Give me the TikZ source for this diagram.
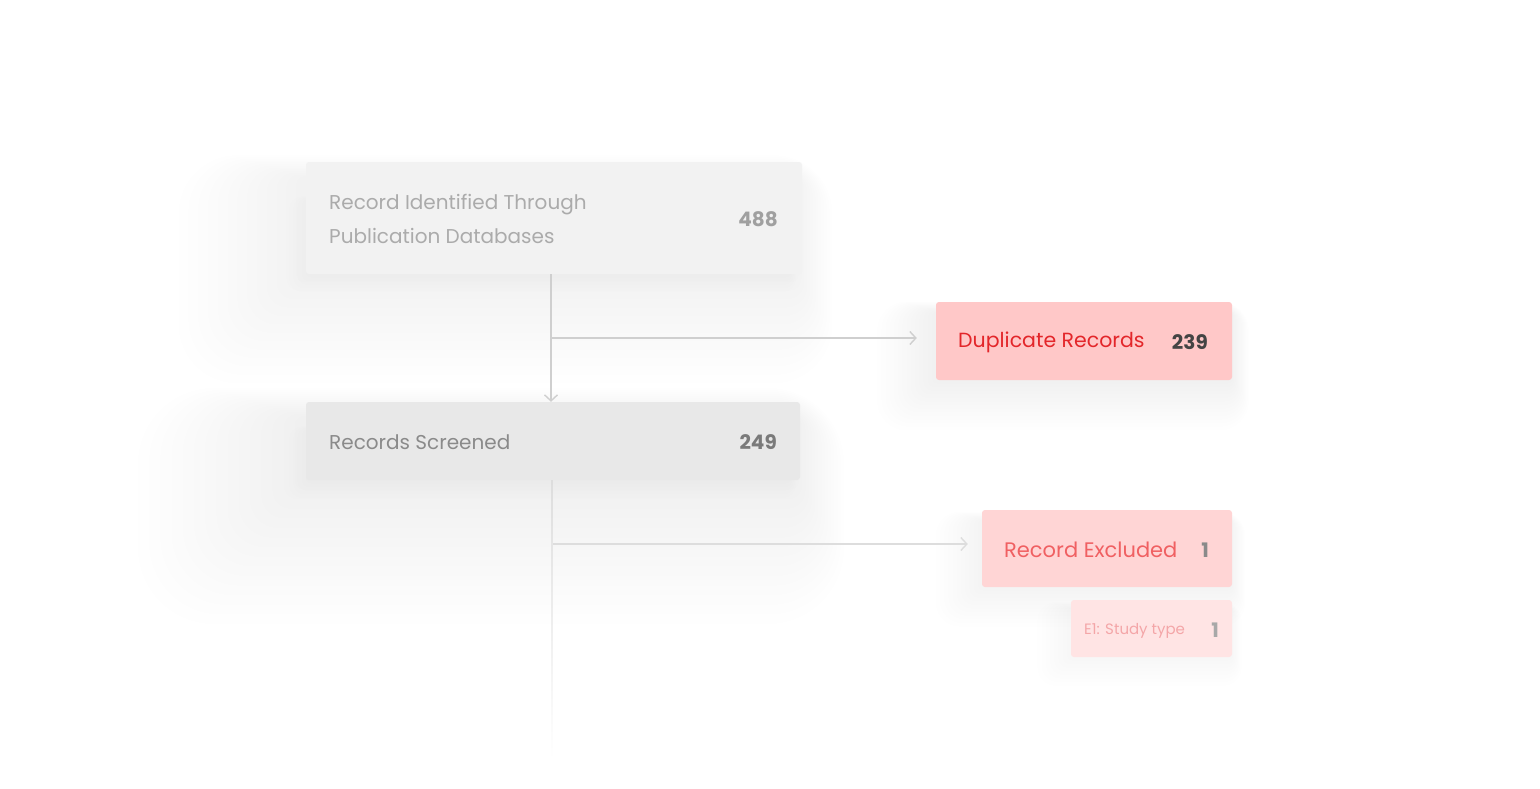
\documentclass[tikz,border=0pt]{standalone}
\usepackage{fontspec}
\setmainfont{Poppins}
\usetikzlibrary{arrows.meta,positioning}
\definecolor{boxA}{HTML}{F2F2F2}
\definecolor{boxB}{HTML}{E8E8E8}
\definecolor{dupfill}{HTML}{FFC8C8}
\definecolor{excfill}{HTML}{FFD5D5}
\definecolor{e1fill}{HTML}{FFE4E4}
\definecolor{txtA}{HTML}{ABABAB}
\definecolor{numA}{HTML}{A0A0A0}
\definecolor{txtB}{HTML}{8A8A8A}
\definecolor{numB}{HTML}{7A7A7A}
\definecolor{dupred}{HTML}{E3262A}
\definecolor{dupnum}{HTML}{444444}
\definecolor{excred}{HTML}{F06062}
\definecolor{excnum}{HTML}{8A8A8A}
\definecolor{e1red}{HTML}{F4A6A8}
\definecolor{e1num}{HTML}{A8A8A8}
\definecolor{lineA}{HTML}{CFCFCF}
\definecolor{lineB}{HTML}{DDDDDD}
\tikzset{
  card/.style={rounded corners=3pt, inner sep=0pt, draw=none},
  lbl/.style={inner sep=0pt, anchor=west, font=\fontsize{20}{24}\selectfont},
  num/.style={inner sep=0pt, anchor=east, font=\fontsize{20}{24}\selectfont\bfseries},
  conn/.style={line width=1.6pt, -{Straight Barb[length=6pt,width=13pt,line width=1.4pt]}},
}
% x1 y1 x2 y2 layers step opacity
\newcommand{\softshadow}[7]{%
  \foreach \i in {1,...,#5}{
    \pgfmathsetmacro{\rr}{4+\i*#6*0.6}
    \pgfmathsetmacro{\xa}{#1-\i*#6*1.4}
    \pgfmathsetmacro{\ya}{#2-\i*#6*0.25}
    \pgfmathsetmacro{\xb}{#3+\i*#6*0.4}
    \pgfmathsetmacro{\yb}{#4+\i*#6*1.2}
    \fill[black, opacity=#7, rounded corners=\rr pt] (\xa,\ya) rectangle (\xb,\yb);
  }
}
\begin{document}
\begin{tikzpicture}[x=1pt,y=-1pt]
\useasboundingbox (0,0) rectangle (1540,788);
\fill[white] (0,0) rectangle (1540,788);
% shadows (alpha 1/255 per layer)
\softshadow{306}{178}{796}{274}{13}{7}{0.0041}
\softshadow{306}{418}{796}{480}{15}{8}{0.0041}
\softshadow{310}{200}{790}{274}{5}{3}{0.0041}
\softshadow{310}{430}{790}{480}{5}{3}{0.0041}
\softshadow{936}{312}{1232}{380}{14}{3}{0.0045}
\softshadow{982}{520}{1232}{587}{11}{3}{0.0041}
\softshadow{1071}{608}{1232}{657}{8}{3}{0.0041}
% boxes
\node[card, fill=boxA, minimum width=496pt, minimum height=112pt] (ident) at (554,218) {};
\node[card, fill=boxB, minimum width=494pt, minimum height=78pt] (screen) at (553,441) {};
\node[card, fill=dupfill, minimum width=296pt, minimum height=78pt] (dup) at (1084,341) {};
\node[card, fill=excfill, minimum width=250pt, minimum height=77pt] (excl) at (1107,548.5) {};
\node[card, fill=e1fill, minimum width=161pt, minimum height=57pt] (eone) at (1151.5,628.5) {};
% texts
\node[lbl, text=txtA, align=left, font=\fontsize{20}{34}\selectfont] (identT) at (329,219) {Record Identified Through\\Publication Databases};
\node[num, text=numA] (identN) at (778,219) {488};
\node[lbl, text=txtB] (screenT) at (329,442.5) {Records Screened};
\node[num, text=numB] (screenN) at (777,442) {249};
\node[lbl, text=dupred, font=\fontsize{20.5}{24}\selectfont] (dupT) at (958,342.5) {Duplicate Records};
\node[num, text=dupnum] (dupN) at (1208,342) {239};
\node[lbl, text=excred, font=\fontsize{21}{24}\selectfont] (exclT) at (1004,550) {Record Excluded};
\node[num, text=excnum] (exclN) at (1209,550) {1};
\node[lbl, text=e1red, font=\fontsize{15}{18}\selectfont] (eoneT) at (1084,630.5) {E1: Study type};
\node[num, text=e1num] (eoneN) at (1219,630) {1};
% connectors
\coordinate (j1) at (551,338);
\coordinate (j2) at (552,544);
\coordinate (tail) at (552,760);
\draw[conn, draw=lineA] (ident.south -| j1) -- (screen.north -| j1);
\draw[conn, draw=lineA] (j1) -- ([xshift=-19pt]dup.west |- j1);
\draw[conn, draw=lineB] (j2) -- ([xshift=-14pt]excl.west |- j2);
\shade[top color=lineB, bottom color=white] ([xshift=-0.8pt]screen.south -| j2) rectangle ([xshift=0.8pt]tail);
\end{tikzpicture}
\end{document}
